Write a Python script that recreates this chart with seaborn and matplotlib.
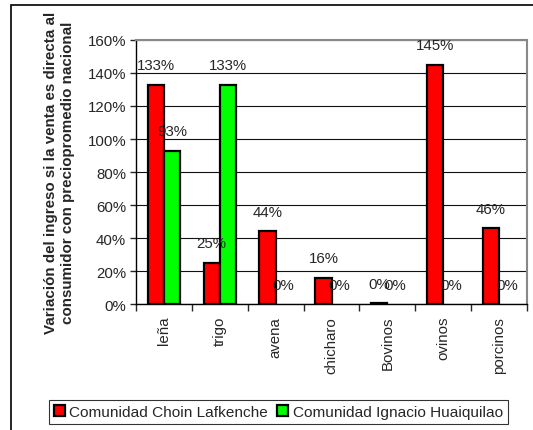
"""
Variación del ingreso por producto y comunidad.
"""
import pandas as pd
import seaborn as sns
import matplotlib.pyplot as plt
from matplotlib.patches import Rectangle
from matplotlib.ticker import PercentFormatter, FixedLocator

categorias = ['leña', 'trigo', 'avena', 'chicharo', 'Bovinos', 'ovinos', 'porcinos']
choin = [133, 25, 44, 16, 0.4, 145, 46]
ignacio = [93, 133, 0, 0, 0, 0, 0]
series = ['Comunidad Choin Lafkenche', 'Comunidad Ignacio Huaiquilao']
colores = ['#ff0000', '#00ff00']


def build_frame() -> pd.DataFrame:
    rows = []
    for nombre, valores in zip(series, [choin, ignacio]):
        for cat, v in zip(categorias, valores):
            rows.append({'producto': cat, 'serie': nombre, 'valor': v})
    return pd.DataFrame(rows)


def main() -> None:
    df = build_frame()
    sns.set_style('white')
    plt.rcParams['font.family'] = ['Liberation Sans', 'DejaVu Sans']
    fs = 10.8

    fig = plt.figure(figsize=(5.33, 4.31), dpi=100)
    ax = fig.add_axes([0.255, 0.292, 0.734, 0.613])

    sns.barplot(data=df, x='producto', y='valor', hue='serie', palette=colores,
                saturation=1, width=0.58, edgecolor='black', linewidth=1.6,
                ax=ax, zorder=3)

    # no outline for empty bars
    for cont in ax.containers:
        for bar in cont:
            if bar.get_height() == 0:
                bar.set_linewidth(0)
        ax.bar_label(cont, fmt='%.0f%%', padding=9, fontsize=fs)

    ax.set_ylim(0, 160)
    ax.set_xlim(-0.5, len(categorias) - 0.5)
    ax.yaxis.set_major_formatter(PercentFormatter(100, decimals=0))
    ax.set_yticks(range(0, 161, 20))
    ax.grid(axis='y', color='#111111', linewidth=0.8, zorder=0)
    ax.set_axisbelow(True)

    ax.tick_params(axis='y', left=True, length=4, width=1, labelsize=fs, pad=3)
    ax.tick_params(axis='x', which='major', bottom=False, labelsize=fs, rotation=90, pad=5)
    ax.xaxis.set_minor_locator(FixedLocator([i - 0.5 for i in range(len(categorias) + 1)]))
    ax.tick_params(axis='x', which='minor', bottom=True, length=5, width=1)

    for s in ['left', 'bottom']:
        ax.spines[s].set_color('black')
        ax.spines[s].set_linewidth(1)
    for s in ['top', 'right']:
        ax.spines[s].set_color('#888888')
        ax.spines[s].set_linewidth(1.5)

    ax.set_xlabel('')
    ax.set_ylabel('Variación del ingreso si la venta es directa al\n'
                  'consumidor con preciopromedio nacional',
                  fontsize=10.9, fontweight='bold', labelpad=9, linespacing=1.3)

    handles, labels = ax.get_legend_handles_labels()
    ax.get_legend().remove()
    leg = fig.legend(handles, labels, loc='center', bbox_to_anchor=(0.5225, 0.042),
                     ncol=2, fontsize=11.1, frameon=True, fancybox=False,
                     edgecolor='black', handlelength=0.7, handleheight=0.7,
                     handletextpad=0.3, columnspacing=0.6, borderpad=0.3,
                     borderaxespad=0)
    leg.get_frame().set_linewidth(0.8)

    fig.add_artist(Rectangle((11 / 533, -0.1), 1.2, 1.086, transform=fig.transFigure,
                             fill=False, edgecolor='black', linewidth=1.2))

    fig.savefig('out.png', dpi=100)


if __name__ == '__main__':
    main()
